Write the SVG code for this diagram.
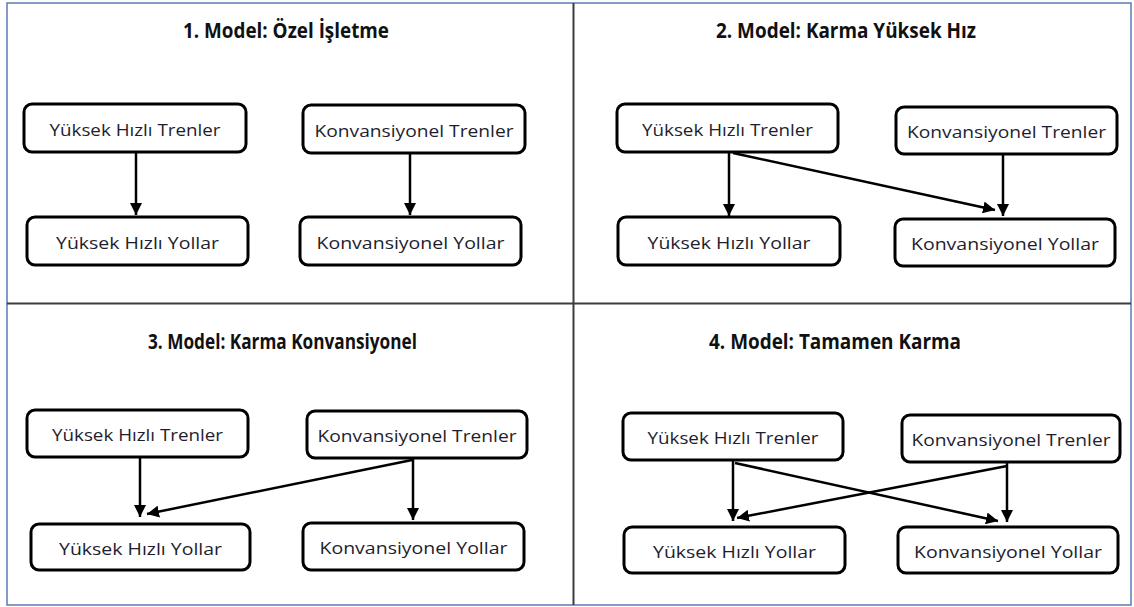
<svg xmlns="http://www.w3.org/2000/svg" width="1134" height="607" viewBox="0 0 1134 607">
  <style>
    .frame { fill: none; stroke: #5a7bb5; stroke-width: 1.5; }
    .divider { stroke: #3c3c3c; stroke-width: 2; }
    .title { font-family: "Open Sans", "Liberation Sans", sans-serif; font-weight: bold; font-size: 21px; fill: #111; text-anchor: middle; }
    .box { fill: #fff; stroke: #000; stroke-width: 3; }
    .label { font-family: "Open Sans", "Liberation Sans", sans-serif; font-size: 17px; fill: #1e1e2e; text-anchor: middle; }
    .edge { fill: none; stroke: #000; stroke-width: 2.5; }
  </style>
  <defs>
    <marker id="arrow" markerUnits="userSpaceOnUse" markerWidth="13" markerHeight="12" refX="12" refY="6" orient="auto">
      <path d="M0,0 L12,6 L0,12 z" fill="#000"/>
    </marker>
  </defs>

  <rect width="1134" height="607" fill="#fff"/>

  <!-- outer frame and quadrant dividers -->
  <rect class="frame" x="7" y="3" width="1124" height="602"/>
  <line class="divider" x1="573.5" y1="3" x2="573.5" y2="605"/>
  <line class="divider" x1="7" y1="303.5" x2="1131" y2="303.5"/>

  <!-- panel titles -->
  <text class="title" x="286" y="38" textLength="206" lengthAdjust="spacingAndGlyphs">1. Model: Özel İşletme</text>
  <text class="title" x="846" y="38" textLength="260" lengthAdjust="spacingAndGlyphs">2. Model: Karma Yüksek Hız</text>
  <text class="title" x="282.5" y="349" textLength="269" lengthAdjust="spacingAndGlyphs">3. Model: Karma Konvansiyonel</text>
  <text class="title" x="835" y="349" textLength="252" lengthAdjust="spacingAndGlyphs">4. Model: Tamamen Karma</text>

  <!-- Model 1 -->
  <g id="m1-yht"><rect class="box" x="24" y="104" width="222" height="48" rx="8"/><text class="label" x="135" y="135.5" textLength="171" lengthAdjust="spacingAndGlyphs">Yüksek Hızlı Trenler</text></g>
  <g id="m1-kt"><rect class="box" x="303" y="105" width="222" height="48" rx="8"/><text class="label" x="414" y="136.5" textLength="199" lengthAdjust="spacingAndGlyphs">Konvansiyonel Trenler</text></g>
  <g id="m1-yhy"><rect class="box" x="27" y="217" width="221" height="48" rx="8"/><text class="label" x="137.5" y="248.5" textLength="163" lengthAdjust="spacingAndGlyphs">Yüksek Hızlı Yollar</text></g>
  <g id="m1-ky"><rect class="box" x="300" y="217" width="221" height="48" rx="8"/><text class="label" x="410.5" y="248.5" textLength="188" lengthAdjust="spacingAndGlyphs">Konvansiyonel Yollar</text></g>

  <!-- Model 2 -->
  <g id="m2-yht"><rect class="box" x="617" y="104" width="221" height="48" rx="8"/><text class="label" x="727.5" y="135.5" textLength="171" lengthAdjust="spacingAndGlyphs">Yüksek Hızlı Trenler</text></g>
  <g id="m2-kt"><rect class="box" x="896" y="107" width="221" height="47" rx="8"/><text class="label" x="1006.5" y="138" textLength="199" lengthAdjust="spacingAndGlyphs">Konvansiyonel Trenler</text></g>
  <g id="m2-yhy"><rect class="box" x="618" y="217" width="222" height="48" rx="8"/><text class="label" x="729" y="248.5" textLength="163" lengthAdjust="spacingAndGlyphs">Yüksek Hızlı Yollar</text></g>
  <g id="m2-ky"><rect class="box" x="895" y="219" width="220" height="47" rx="8"/><text class="label" x="1005" y="250" textLength="188" lengthAdjust="spacingAndGlyphs">Konvansiyonel Yollar</text></g>

  <!-- Model 3 -->
  <g id="m3-yht"><rect class="box" x="27" y="410" width="221" height="47" rx="8"/><text class="label" x="137.5" y="441" textLength="171" lengthAdjust="spacingAndGlyphs">Yüksek Hızlı Trenler</text></g>
  <g id="m3-kt"><rect class="box" x="307" y="411" width="220" height="47" rx="8"/><text class="label" x="417" y="442" textLength="199" lengthAdjust="spacingAndGlyphs">Konvansiyonel Trenler</text></g>
  <g id="m3-yhy"><rect class="box" x="31" y="524" width="219" height="46" rx="8"/><text class="label" x="140.5" y="554.5" textLength="163" lengthAdjust="spacingAndGlyphs">Yüksek Hızlı Yollar</text></g>
  <g id="m3-ky"><rect class="box" x="303" y="523" width="221" height="47" rx="8"/><text class="label" x="413.5" y="554" textLength="188" lengthAdjust="spacingAndGlyphs">Konvansiyonel Yollar</text></g>

  <!-- Model 4 -->
  <g id="m4-yht"><rect class="box" x="623" y="413" width="220" height="47" rx="8"/><text class="label" x="733" y="444" textLength="171" lengthAdjust="spacingAndGlyphs">Yüksek Hızlı Trenler</text></g>
  <g id="m4-kt"><rect class="box" x="902" y="415" width="218" height="47" rx="8"/><text class="label" x="1011" y="446" textLength="199" lengthAdjust="spacingAndGlyphs">Konvansiyonel Trenler</text></g>
  <g id="m4-yhy"><rect class="box" x="624" y="527" width="221" height="46" rx="8"/><text class="label" x="734.5" y="557.5" textLength="163" lengthAdjust="spacingAndGlyphs">Yüksek Hızlı Yollar</text></g>
  <g id="m4-ky"><rect class="box" x="898" y="527" width="220" height="46" rx="8"/><text class="label" x="1008" y="557.5" textLength="188" lengthAdjust="spacingAndGlyphs">Konvansiyonel Yollar</text></g>

  <!-- connectors: trains to tracks -->
  <g id="connectors">
    <path class="edge" marker-end="url(#arrow)" d="M136,153 L136,215"/>
    <path class="edge" marker-end="url(#arrow)" d="M410,154 L410,215"/>

    <path class="edge" marker-end="url(#arrow)" d="M729,153 L729,216"/>
    <path class="edge" marker-end="url(#arrow)" d="M1003,155 L1003,216"/>
    <path class="edge" marker-end="url(#arrow)" d="M733,153 L995,210"/>

    <path class="edge" marker-end="url(#arrow)" d="M140,458 L140,517"/>
    <path class="edge" marker-end="url(#arrow)" d="M413,459 L413,520"/>
    <path class="edge" marker-end="url(#arrow)" d="M412,460 L147,514"/>

    <path class="edge" marker-end="url(#arrow)" d="M733,461 L733,521"/>
    <path class="edge" marker-end="url(#arrow)" d="M1007,463 L1007,522"/>
    <path class="edge" marker-end="url(#arrow)" d="M735,463 L998,521"/>
    <path class="edge" marker-end="url(#arrow)" d="M1007,466 L737,518"/>
  </g>
</svg>
